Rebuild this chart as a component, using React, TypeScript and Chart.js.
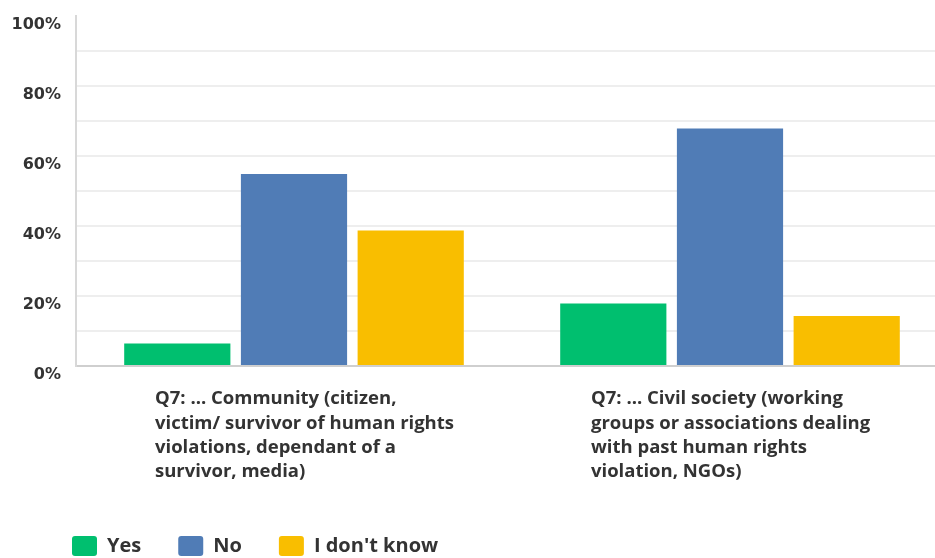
import React, { useEffect, useRef } from 'react';
import { Chart, registerables } from 'chart.js';

Chart.register(...registerables);

const categories: string[][] = [
  ['Q7: ... Community (citizen,', 'victim/ survivor of human rights', 'violations, dependant of a', 'survivor, media)'],
  ['Q7: ... Civil society (working', 'groups or associations dealing', 'with past human rights', 'violation, NGOs)'],
];
const seriesNames = ['Yes', 'No', "I don't know"];
const yesValues = [6.45, 17.86];
const noValues = [54.84, 67.86];
const dontKnowValues = [38.71, 14.29];
const seriesColors = ['#00BF6F', '#507CB6', '#F9BE00'];
const yMax = 100;
const yStep = 10;
const yLabelEvery = 20;

const W = 950;
const H = 566;

const legendShift = {
  id: 'legendShift',
  afterLayout(chart: any) {
    if (chart.legend) chart.legend.left += 30;
  },
};

export default function App() {
  const ref = useRef<HTMLCanvasElement | null>(null);

  useEffect(() => {
    if (!ref.current) return;
    const textColor = '#333333';
    const chart = new Chart(ref.current, {
      type: 'bar',
      data: {
        labels: categories,
        datasets: [yesValues, noValues, dontKnowValues].map((vals, i) => ({
          label: seriesNames[i],
          data: vals,
          backgroundColor: seriesColors[i],
          borderWidth: 0,
          categoryPercentage: 0.803,
          barPercentage: 0.91,
        })),
      },
      plugins: [legendShift],
      options: {
        responsive: false,
        animation: false,
        devicePixelRatio: 1,
        layout: { padding: { left: 5, top: 16, right: 2, bottom: 0 } },
        plugins: {
          tooltip: { enabled: false },
          title: { display: false },
          legend: {
            position: 'bottom',
            align: 'start',
            labels: {
              boxWidth: 25,
              boxHeight: 20,
              padding: 37,
              useBorderRadius: true,
              borderRadius: 3,
              color: textColor,
              font: { family: 'Open Sans', size: 20, weight: 'bold' },
            },
          },
        },
        scales: {
          x: {
            grid: { display: false, drawTicks: false },
            border: { color: '#cfcfcf', width: 2 },
            ticks: {
              align: 'start',
              labelOffset: -139,
              padding: 21,
              maxRotation: 0,
              autoSkip: false,
              color: textColor,
              font: { family: 'Open Sans', size: 18.5, weight: 'bold', lineHeight: '24.3px' },
            },
            afterFit: (scale: any) => {
              scale.height = 133;
              scale.paddingLeft = 0;
              scale.paddingRight = 0;
            },
          },
          y: {
            min: 0,
            max: yMax,
            grid: {
              drawTicks: false,
              lineWidth: 2,
              color: (ctx: any) => (ctx.tick && ctx.tick.value === yMax ? 'rgba(0,0,0,0)' : '#eeeeee'),
            },
            border: { color: '#d8d8d8', width: 2 },
            ticks: {
              stepSize: yStep,
              autoSkip: false,
              padding: 15,
              labelOffset: 9,
              color: textColor,
              font: { family: 'DejaVu Sans', size: 16, weight: 'bold' },
              callback: (v: any) => (Number(v) % yLabelEvery === 0 ? `${v}%` : ''),
            },
            afterFit: (scale: any) => {
              scale.width = 71;
              scale.paddingTop = 0;
              scale.paddingBottom = 0;
            },
          },
        },
      },
    });
    return () => chart.destroy();
  }, []);

  return (
    <div style={{ position: 'fixed', left: 0, top: 0, width: W, height: H, background: '#fff' }}>
      <canvas ref={ref} width={W} height={H} style={{ width: W, height: H, display: 'block' }} />
    </div>
  );
}
